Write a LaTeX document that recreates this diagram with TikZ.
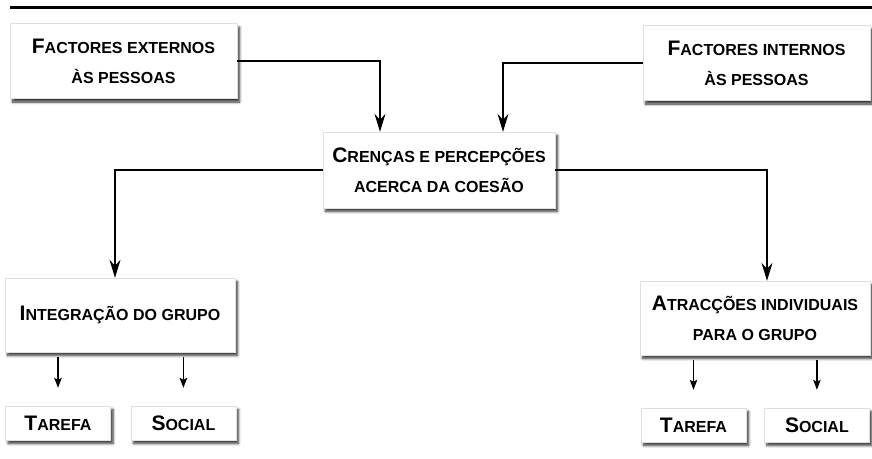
\documentclass[tikz,border=0pt]{standalone}
\usepackage{fontspec}
\setmainfont{Liberation Sans}
\usetikzlibrary{arrows.meta,positioning,shadows.blur}

\newcommand{\capa}[1]{{\fontsize{21}{21}\selectfont #1}}

\tikzset{
  box/.style={
    fill=white,
    draw=gray!25,
    line width=0.4pt,
    align=center,
    inner sep=0pt,
    font=\fontsize{16}{30}\selectfont\bfseries,
    blur shadow={shadow xshift=2.5pt, shadow yshift=-3.5pt, shadow blur steps=6,
      shadow blur radius=2.5pt, shadow opacity=80}
  },
  factor/.style={box, minimum width=227pt, minimum height=75pt},
  core/.style={box, minimum width=232pt, minimum height=76pt},
  dimen/.style={box, minimum width=230pt, minimum height=74pt},
  leaf/.style={box, minimum width=105pt, minimum height=34pt},
  flow/.style={-{Stealth[length=18pt, width=11pt, inset=6pt]}, line width=1.6pt},
  split/.style={-{Stealth[length=10pt, width=7.5pt, inset=2pt]}, line width=1.3pt,
    shorten <=5pt, shorten >=18pt}
}

\begin{document}
\begin{tikzpicture}[x=1pt, y=-1pt]
  \useasboundingbox (0,0) rectangle (872,458);
  \draw[line width=3pt] (10,7) -- (872,7);

  \node[factor] (ext) at (123.5,61) {\capa{F}ACTORES EXTERNOS\\ÀS PESSOAS};
  \node[factor] (int) at (756.5,63) {\capa{F}ACTORES INTERNOS\\ÀS PESSOAS};
  \node[core] (beliefs) at (439,170) {\capa{C}RENÇAS E PERCEPÇÕES\\ACERCA DA COESÃO};

  \node[dimen] (integ) at (120,315) {\capa{I}NTEGRAÇÃO DO GRUPO};
  \node[dimen] (attr) at (755,318) {\capa{A}TRACÇÕES INDIVIDUAIS\\PARA O GRUPO};

  \node[leaf] (taskL) at (58,423) {\capa{T}AREFA};
  \node[leaf, right=20pt of taskL] (socL) {\capa{S}OCIAL};
  \node[leaf] (taskR) at (693.5,425) {\capa{T}AREFA};
  \node[leaf, right=18pt of taskR] (socR) {\capa{S}OCIAL};

  \draw[flow] (ext.east) -| ([xshift=-59pt]beliefs.north);
  \draw[flow] (int.west) -| ([xshift=64pt]beliefs.north);
  \draw[flow] (beliefs.west) -| ([xshift=-5pt]integ.north);
  \draw[flow] (beliefs.east) -| ([xshift=12pt]attr.north);

  \draw[split] (integ.south -| taskL.north) -- (taskL.north);
  \draw[split] (integ.south -| socL.north) -- (socL.north);
  \draw[split] (attr.south -| taskR.north) -- (taskR.north);
  \draw[split] (attr.south -| socR.north) -- (socR.north);
\end{tikzpicture}
\end{document}
